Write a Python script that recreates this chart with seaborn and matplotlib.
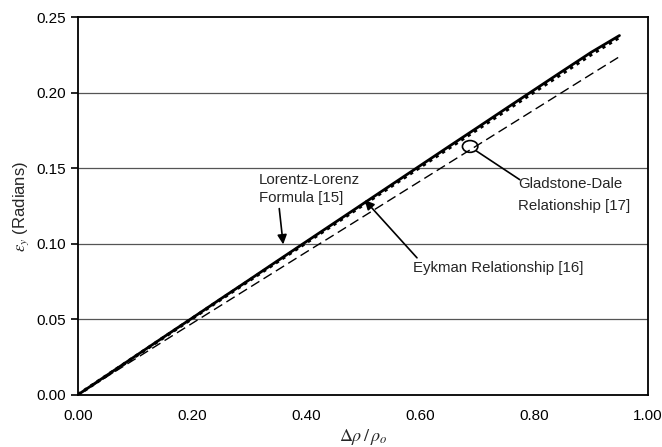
import numpy as np
import pandas as pd
import matplotlib
matplotlib.use("Agg")
import matplotlib.pyplot as plt
from matplotlib.patches import Ellipse
import seaborn as sns

# Density ratio and beam deflection for three refractive-index relations
density_ratio = [0.00, 0.05, 0.10, 0.15, 0.20, 0.25, 0.30, 0.35, 0.40, 0.45,
                 0.50, 0.55, 0.60, 0.65, 0.70, 0.75, 0.80, 0.85, 0.90, 0.95]
lorentz_lorenz = [0.0000, 0.0127, 0.0254, 0.0381, 0.0507, 0.0634, 0.0760, 0.0887,
                  0.1013, 0.1139, 0.1265, 0.1391, 0.1517, 0.1643, 0.1768, 0.1894,
                  0.2019, 0.2144, 0.2268, 0.2380]
eykman = [0.0000, 0.0126, 0.0252, 0.0378, 0.0504, 0.0630, 0.0755, 0.0881,
          0.1006, 0.1131, 0.1257, 0.1382, 0.1507, 0.1632, 0.1756, 0.1881,
          0.2005, 0.2129, 0.2253, 0.2368]
gladstone_dale = [0.0000, 0.0118, 0.0236, 0.0354, 0.0472, 0.0590, 0.0708, 0.0826,
                  0.0944, 0.1061, 0.1179, 0.1297, 0.1415, 0.1533, 0.1651, 0.1769,
                  0.1887, 0.2005, 0.2123, 0.2240]

x_ticks = [0.0, 0.2, 0.4, 0.6, 0.8, 1.0]
y_ticks = [0.00, 0.05, 0.10, 0.15, 0.20, 0.25]

df = pd.DataFrame({"x": density_ratio, "ll": lorentz_lorenz,
                   "ey": eykman, "gd": gladstone_dale})

sns.set_style("white")
plt.rcParams["font.family"] = ["Liberation Sans", "DejaVu Sans"]
plt.rcParams["mathtext.fontset"] = "stix"

fig = plt.figure(figsize=(6.62, 4.47), dpi=100)
ax = fig.add_axes([0.1178, 0.117, 0.861, 0.844])

for y in y_ticks[1:-1]:
    ax.axhline(y, color="#555555", lw=0.9, zorder=0)

sns.lineplot(data=df, x="x", y="gd", ax=ax, color="black", lw=1.0,
             linestyle=(0, (7, 3.5)))
sns.lineplot(data=df, x="x", y="ey", ax=ax, color="black", lw=2.4,
             linestyle=(0, (1, 1.3)))
sns.lineplot(data=df, x="x", y="ll", ax=ax, color="black", lw=2.0)

ax.set_xlim(0, 1.0)
ax.set_ylim(0, 0.25)
ax.set_xticks(x_ticks)
ax.set_yticks(y_ticks)
ax.set_xticklabels([f"{v:.2f}" for v in x_ticks])
ax.set_yticklabels([f"{v:.2f}" for v in y_ticks])
ax.tick_params(axis="x", direction="inout", length=8, width=1.2, colors="black",
               labelsize=11, pad=6)
ax.tick_params(axis="y", direction="out", length=5, width=1.2, colors="black",
               labelsize=11, left=True)
for s in ax.spines.values():
    s.set_color("black")
    s.set_linewidth(1.3)

ax.set_xlabel(r"$\Delta\rho\,/\,\rho_o$", fontsize=13, labelpad=3)
ax.set_ylabel(r"$\varepsilon_y$ (Radians)", fontsize=12, labelpad=4)

ax.annotate("Lorentz-Lorenz\nFormula [15]", xy=(0.360, 0.0996),
            xytext=(0.317, 0.1255), fontsize=10.8, ha="left", va="bottom",
            linespacing=1.35,
            arrowprops=dict(arrowstyle="-|>", color="black", lw=1.2,
                            mutation_scale=14, shrinkA=0, shrinkB=0,
                            relpos=(0.2, 0.0)))
ax.annotate("Eykman Relationship [16]", xy=(0.503, 0.129),
            xytext=(0.588, 0.0839), fontsize=10.8, ha="left", va="center",
            arrowprops=dict(arrowstyle="-|>", color="black", lw=1.2,
                            mutation_scale=14, shrinkA=0, shrinkB=0,
                            relpos=(0.04, 1.0)))
ax.text(0.772, 0.1394, "Gladstone-Dale", fontsize=10.8, ha="left", va="center")
ax.text(0.772, 0.1249, "Relationship [17]", fontsize=10.8, ha="left", va="center")
ax.add_patch(Ellipse((0.688, 0.1645), width=0.027, height=0.0078, angle=0,
                     fill=False, edgecolor="black", lw=1.2))
ax.plot([0.699, 0.775], [0.1615, 0.1425], color="black", lw=1.2)

fig.savefig("out.png", dpi=100)
